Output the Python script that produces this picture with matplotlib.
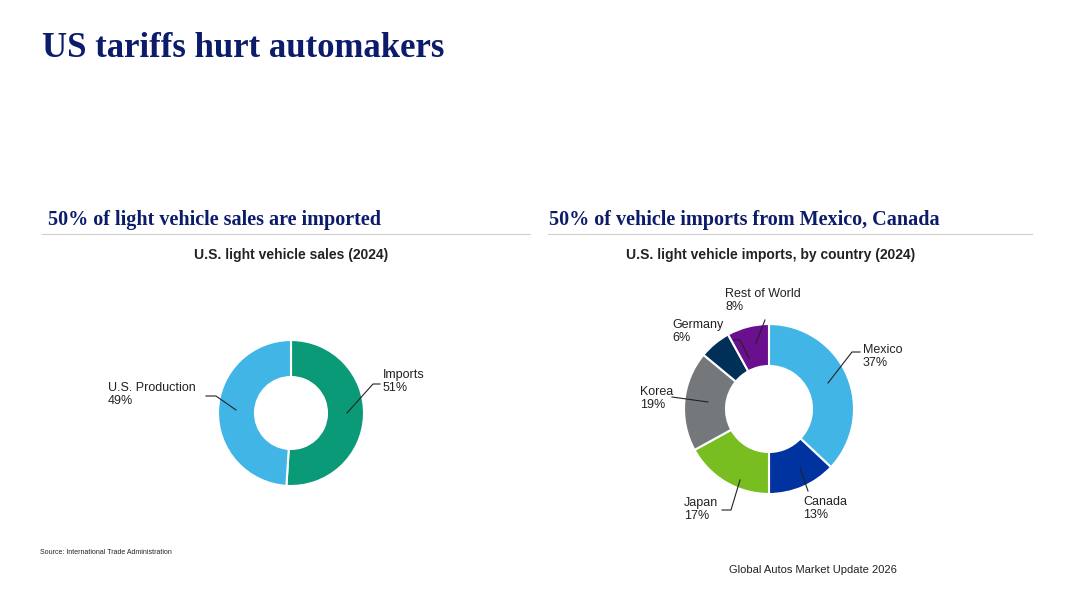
import matplotlib.pyplot as plt

plt.rcParams['font.family'] = ['Liberation Sans', 'DejaVu Sans']

# data
sales_labels = ["Imports", "U.S. Production"]
sales_values = [51, 49]
sales_colors = ["#0a9a78", "#41b6e6"]

imp_labels = ["Mexico", "Canada", "Japan", "Korea", "Germany", "Rest of World"]
imp_values = [37, 13, 17, 19, 6, 8]
imp_colors = ["#41b6e6", "#0033a0", "#78be20", "#75787b", "#003057", "#6a0f8e"]

W, H = 1080, 607
fig = plt.figure(figsize=(10.8, 6.07), dpi=100)
ax = fig.add_axes([0, 0, 1, 1])
ax.set_xlim(0, W)
ax.set_ylim(0, H)
ax.axis("off")

def Y(y):
    return H - y

navy = "#0c1c6b"
ax.text(42, Y(57), "US tariffs hurt automakers", family="Liberation Serif",
        weight="bold", fontsize=25, color=navy, va="baseline")
ax.text(48, Y(225), "50% of light vehicle sales are imported", family="Liberation Serif",
        weight="bold", fontsize=14.5, color=navy, va="baseline")
ax.text(549, Y(225), "50% of vehicle imports from Mexico, Canada", family="Liberation Serif",
        weight="bold", fontsize=14.5, color=navy, va="baseline")
ax.plot([42, 530], [Y(234), Y(234)], color="#d0d0d0", lw=0.8)
ax.plot([548, 1032], [Y(234), Y(234)], color="#d0d0d0", lw=0.8)

ax.text(291, Y(255), "U.S. light vehicle sales (2024)", weight="bold", fontsize=10,
        ha="center", va="center", color="#222222")
ax.text(771, Y(255), "U.S. light vehicle imports, by country (2024)", weight="bold",
        fontsize=10, ha="center", va="center", color="#222222")

ax.pie(sales_values, colors=sales_colors, startangle=90, counterclock=False,
       center=(291, Y(413)), radius=73, frame=True,
       wedgeprops=dict(width=37, edgecolor="white", linewidth=1.5))
ax.pie(imp_values, colors=imp_colors, startangle=90, counterclock=False,
       center=(769, Y(409)), radius=85, frame=True,
       wedgeprops=dict(width=42, edgecolor="white", linewidth=1.5))
ax.set_xlim(0, W)
ax.set_ylim(0, H)
ax.set_aspect("auto")
ax.axis("off")

def label(txt, tx, ty, pts, ha="left"):
    ax.text(tx, Y(ty), txt, fontsize=9, ha=ha, va="top", color="#222222", linespacing=1.1)
    xs = [p[0] for p in pts]
    ys = [Y(p[1]) for p in pts]
    ax.plot(xs, ys, color="#222222", lw=0.8)

label(f"{sales_labels[0]}\n{sales_values[0]}%", 383, 369, [(347, 413), (373, 384), (380, 384)])
label(f"{sales_labels[1]}\n{sales_values[1]}%", 108, 382, [(236, 410), (216, 396), (206, 396)])

label(f"{imp_labels[0]}\n{imp_values[0]}%", 863, 344, [(828, 383), (852, 352), (860, 352)])
label(f"{imp_labels[1]}\n{imp_values[1]}%", 803, 496, [(800, 468), (808, 491)])
label(f"{imp_labels[2]}\n{imp_values[2]}%", 684, 497, [(740, 480), (731, 510), (722, 510)])
label(f"{imp_labels[3]}\n{imp_values[3]}%", 640, 386, [(708, 402), (672, 397)])
label(f"{imp_labels[4]}\n{imp_values[4]}%", 672, 319, [(749, 358), (740, 340), (734, 340)])
label(f"{imp_labels[5]}\n{imp_values[5]}%", 725, 288, [(756, 343), (765, 320)])

ax.text(40, Y(553), "Source: International Trade Administration", fontsize=5,
        va="center", color="#222222")
ax.text(729, Y(570), "Global Autos Market Update 2026", fontsize=8,
        va="center", color="#222222")

fig.savefig("out.png", dpi=100)
